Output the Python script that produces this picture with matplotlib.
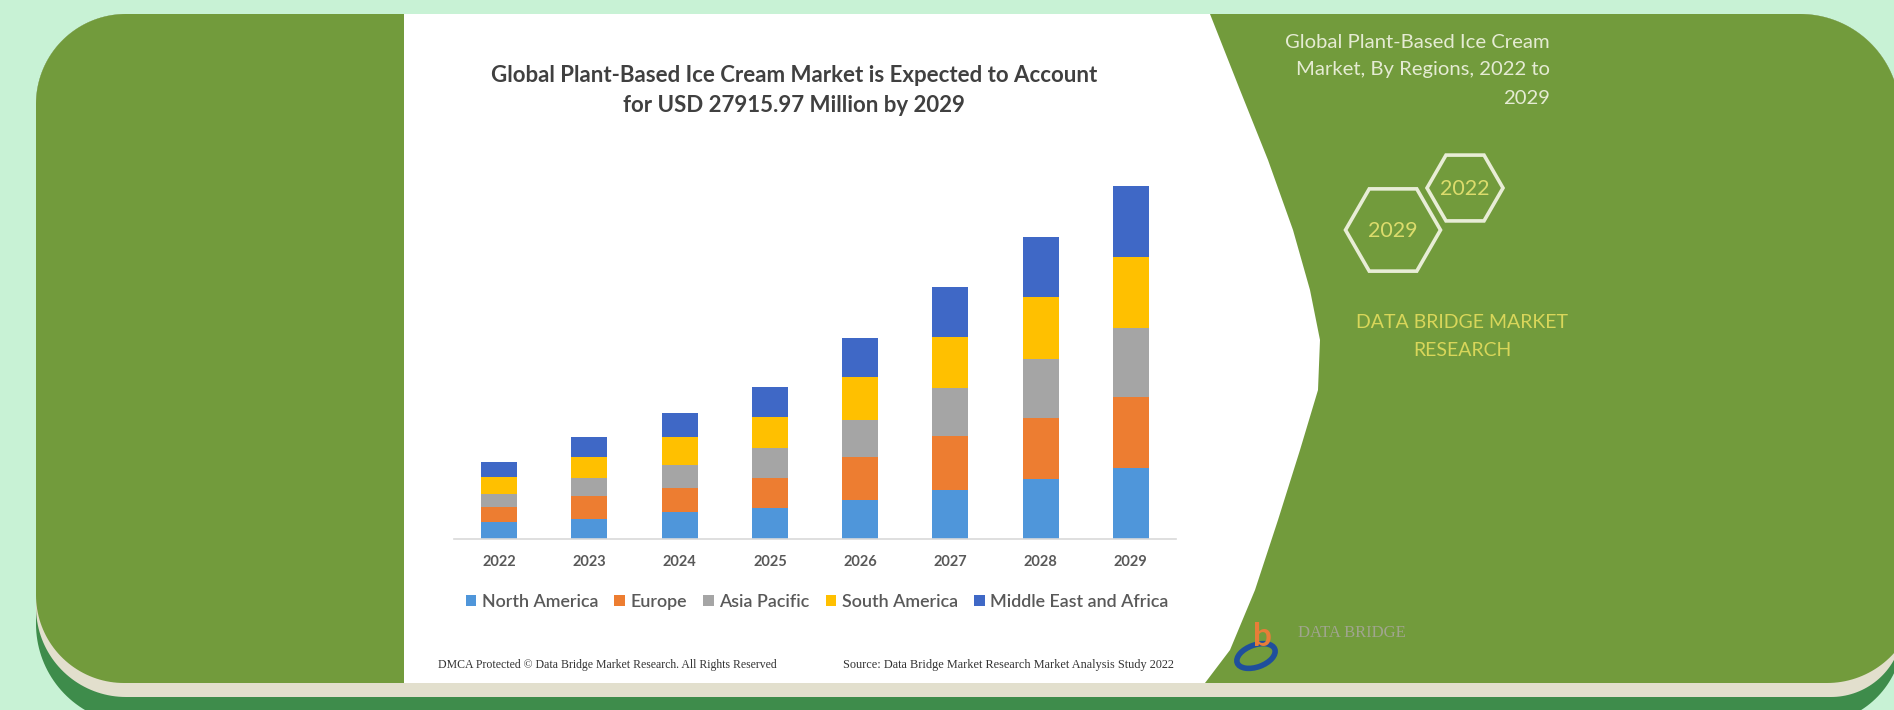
import numpy as np
import matplotlib
matplotlib.use("Agg")
import matplotlib.pyplot as plt
from matplotlib.patches import Polygon, Ellipse

# ---- data (USD million) ----
years = ["2022", "2023", "2024", "2025", "2026", "2027", "2028", "2029"]
north_america = [1270, 1510, 2060, 2380, 3010, 3810, 4680, 5550]
europe = [1190, 1820, 1900, 2380, 3410, 4280, 4840, 5630]
asia_pacific = [1030, 1430, 1900, 2380, 2930, 3810, 4680, 5470]
south_america = [1350, 1670, 2140, 2460, 3410, 4040, 4920, 5630]
middle_east_africa = [1190, 1590, 1900, 2380, 3090, 3970, 4760, 5635.97]

series_names = ["North America", "Europe", "Asia Pacific", "South America",
                "Middle East and Africa"]
series_values = [north_america, europe, asia_pacific, south_america,
                 middle_east_africa]
series_colors = ["#4f96da", "#ed7d31", "#a5a5a5", "#ffc000", "#3f68c6"]

chart_title = ["Global Plant-Based Ice Cream Market is Expected to Account",
               "for USD 27915.97 Million by 2029"]
side_title = ["Global Plant-Based Ice Cream", "Market, By Regions, 2022 to", "2029"]
footer_left = "DMCA Protected \u00a9 Data Bridge Market Research. All Rights Reserved"
footer_right = "Source: Data Bridge Market Research Market Analysis Study 2022"

W, H = 1894, 710
MINT = "#c8f2d5"
PANEL = "#729b3c"
CREAM = "#e2dfcd"
DEEP = "#3e8c4b"

fig = plt.figure(figsize=(W / 100, H / 100), dpi=100)
fig.patch.set_facecolor(MINT)

# background canvas in pixel units (y downwards)
bg = fig.add_axes([0, 0, 1, 1])
bg.set_xlim(0, W)
bg.set_ylim(H, 0)
bg.axis("off")


def arc(cx, cy, r, t0, t1, n=40):
    t = np.radians(np.linspace(t0, t1, n))
    return np.column_stack([cx + r * np.cos(t), cy + r * np.sin(t)])


def rounded(tl, tr, br, bl):
    return np.vstack([arc(*tl, 180, 270), arc(*tr, 270, 360),
                      arc(*br, 0, 90), arc(*bl, 90, 180)])


# stacked frame layers
bg.add_patch(Polygon(rounded((126, 104, 90), (1800, 114, 100),
                             (1813, 634, 90), (136, 624, 100)),
                     closed=True, fc=DEEP, ec="none", zorder=1))
bg.add_patch(Polygon(rounded((126, 104, 90), (1800, 114, 100),
                             (1831, 625, 72), (126, 607, 90)),
                     closed=True, fc=CREAM, ec="none", zorder=2))
bg.add_patch(Polygon(rounded((126, 104, 90), (1800, 114, 100),
                             (1827, 593, 90), (124, 595, 88)),
                     closed=True, fc=PANEL, ec="none", zorder=3))

# white chart card with curved right edge
edge = [(1210, 14), (1240, 90), (1268, 160), (1293, 230), (1310, 290),
        (1320, 340), (1318, 390), (1300, 450), (1278, 520), (1255, 590),
        (1230, 650), (1205, 683)]
card = [(404, 14)] + edge + [(404, 683)]
bg.add_patch(Polygon(card, closed=True, fc="white", ec="none", zorder=4))

# chart titles
bg.text(794, 76, chart_title[0], ha="center", va="center", fontsize=16,
        family="Lato", weight="bold", color="#404040", zorder=6)
bg.text(794, 106, chart_title[1], ha="center", va="center", fontsize=16,
        family="Lato", weight="bold", color="#404040", zorder=6)

# side caption
for i, line in enumerate(side_title):
    bg.text(1550, 42 + i * 28, line, ha="right", va="center", fontsize=14.6,
            family="Lato", color="#e5ebd3", zorder=6)


def hexagon(cx, cy, w):
    h = w * np.sqrt(3) / 2
    return [(cx - w / 2, cy), (cx - w / 4, cy - h / 2), (cx + w / 4, cy - h / 2),
            (cx + w / 2, cy), (cx + w / 4, cy + h / 2), (cx - w / 4, cy + h / 2)]


for cx, cy, w, label in [(1465, 188, 76, "2022"), (1393, 230, 95, "2029")]:
    bg.add_patch(Polygon(hexagon(cx, cy, w), closed=True, fc="none",
                         ec="#e8edd6", lw=2.6, zorder=6))
    bg.text(cx, cy + 1, label, ha="center", va="center", fontsize=15.5,
            family="Lato", color="#dcdc6c", zorder=7)

bg.text(1462, 322, "DATA BRIDGE MARKET", ha="center", va="center", fontsize=14,
        family="Lato", color="#d8d65a", zorder=6)
bg.text(1462, 350, "RESEARCH", ha="center", va="center", fontsize=14,
        family="Lato", color="#d8d65a", zorder=6)

# small brand mark
bg.add_patch(Ellipse((1256, 656), 40, 22, angle=-20, fc="none", ec="#1f4f9c",
                     lw=4, zorder=6))
bg.text(1262, 636, "b", ha="center", va="center", fontsize=24, weight="bold",
        family="Lato", color="#e87d38", zorder=7)
bg.text(1298, 633, "DATA BRIDGE", ha="left", va="center", fontsize=12,
        family="Liberation Serif", color="#a0a58e", zorder=6)

# footer notes
bg.text(438, 665, footer_left, ha="left", va="center", fontsize=8.5,
        family="Liberation Serif", color="#333333", zorder=6)
bg.text(1174, 665, footer_right, ha="right", va="center", fontsize=8.8,
        family="Liberation Serif", color="#333333", zorder=6)

# ---- stacked bar chart ----
base_px, top_px = 538.5, 150
left_px, right_px = 454, 1176
ax = fig.add_axes([left_px / W, (H - base_px) / H,
                   (right_px - left_px) / W, (base_px - top_px) / H])
ax.set_zorder(5)
ax.patch.set_alpha(0)

x = np.arange(len(years))
bottom = np.zeros(len(years))
for name, vals, col in zip(series_names, series_values, series_colors):
    ax.bar(x, vals, width=0.4, bottom=bottom, color=col, label=name)
    bottom += np.array(vals)

total_2029 = bottom[-1]
ax.set_xlim(-0.5, 7.5)
ax.set_ylim(0, total_2029 * (base_px - top_px) / (base_px - 186))
ax.set_xticks(x)
ax.set_xticklabels(years, fontsize=10.5, family="Lato", weight="bold",
                   color="#595959")
ax.tick_params(axis="x", length=0, pad=12)
ax.set_yticks([])
for s in ["left", "right", "top"]:
    ax.spines[s].set_visible(False)
ax.spines["bottom"].set_color("#d9d9d9")
ax.spines["bottom"].set_linewidth(1.2)

leg = ax.legend(loc="center", bbox_to_anchor=(817 / W, (H - 602) / H),
                bbox_transform=fig.transFigure, ncol=5, frameon=False,
                handlelength=0.6, handleheight=0.6, handletextpad=0.3,
                columnspacing=0.9, prop={"family": "Lato", "size": 12.9,
                                         "weight": "semibold"})
for t in leg.get_texts():
    t.set_color("#595959")

fig.savefig("out.png", dpi=100, facecolor=MINT)
